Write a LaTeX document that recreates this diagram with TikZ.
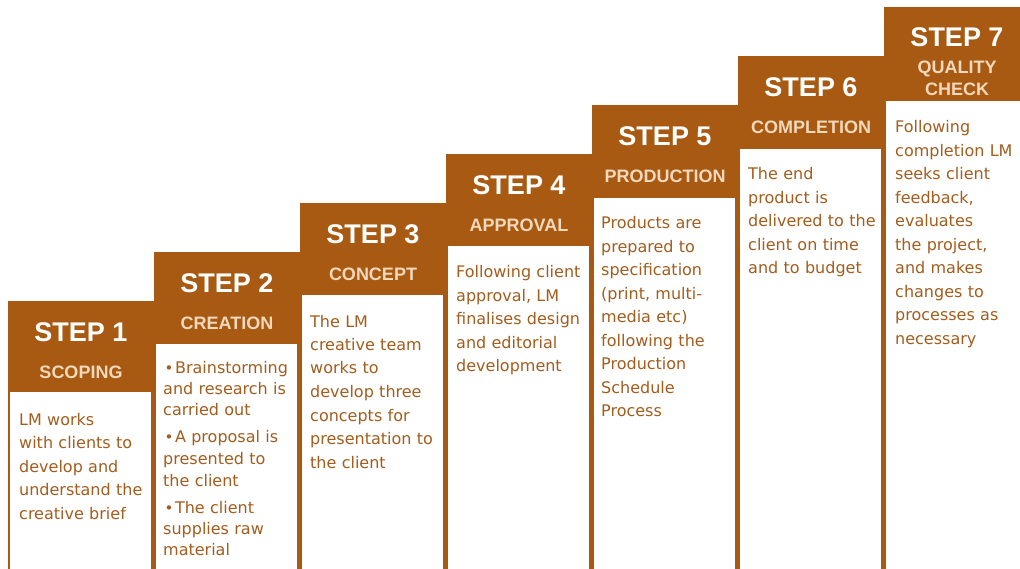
\documentclass[tikz,border=0pt]{standalone}
\usepackage{fontspec}
\setmainfont{DejaVu Sans}
\newfontfamily\headfont{Liberation Sans}
\usepackage{tikz}
\usetikzlibrary{positioning}
\definecolor{lmbrown}{RGB}{168,90,18}
\definecolor{lmtext}{RGB}{163,93,30}
\definecolor{lmpeach}{RGB}{243,216,188}
\newcommand{\stepbullet}{\hspace{1.5pt}{\fontsize{15}{15}\selectfont •}\hspace{1.5pt}}
\tikzset{stepnum/.style = {text=white, font=\headfont\fontsize{27}{27}\selectfont\bfseries, inner sep=0}}
\tikzset{stepname/.style = {text=lmpeach, font=\headfont\fontsize{18}{22}\selectfont\bfseries, align=center, inner sep=0}}
\tikzset{steptext/.style = {text=lmtext, font=\fontsize{16}{23.5}\selectfont, anchor=base west, text width=140pt, align=left, inner sep=0}}

\begin{document}
\begin{tikzpicture}[x=1pt, y=-1pt]
        \useasboundingbox (0,0) rectangle (1020,569);
        % staircase of columns
        \foreach \i in {0,...,6} {
            \fill [lmbrown] (8+146*\i, 301-49*\i) rectangle (154+146*\i, 575);
            \fill [white] (10+146*\i, 392-49*\i+0.5*\i) rectangle (151+146*\i, 575);
        }
        \node [stepnum] (step1) at (81,332) {STEP 1};
        \node [stepname] (title1) at (81,372) {SCOPING};
        \node [steptext] (body1) at (19,425) {LM works\\with clients to\\develop and\\understand the\\creative brief};
        \node [stepnum] (step2) at (227,283) {STEP 2};
        \node [stepname] (title2) at (227,323) {CREATION};
        \node [steptext, font=\fontsize{16}{21.5}\selectfont] (body2) at (163,373) {\stepbullet Brainstorming\\and research is\\carried out\\[5.5pt]\stepbullet A proposal is\\presented to\\the client\\[5.5pt]\stepbullet The client\\supplies raw\\material};
        \node [stepnum] (step3) at (373,234) {STEP 3};
        \node [stepname] (title3) at (373,274) {CONCEPT};
        \node [steptext] (body3) at (310,327) {The LM\\creative team\\works to\\develop three\\concepts for\\presentation to\\the client};
        \node [stepnum] (step4) at (519,185) {STEP 4};
        \node [stepname] (title4) at (519,225) {APPROVAL};
        \node [steptext] (body4) at (456,278) {Following client\\approval, LM\\finalises design\\and editorial\\development};
        \node [stepnum] (step5) at (665,136) {STEP 5};
        \node [stepname] (title5) at (665,176) {PRODUCTION};
        \node [steptext] (body5) at (601,229) {Products are\\prepared to\\specification\\(print, multi-\\media etc)\\following the\\Production\\Schedule\\Process};
        \node [stepnum] (step6) at (811,87) {STEP 6};
        \node [stepname] (title6) at (811,127) {COMPLETION};
        \node [steptext] (body6) at (748,180) {The end\\product is\\delivered to the\\client on time\\and to budget};
        \node [stepnum] (step7) at (957,37) {STEP 7};
        \node [stepname] (title7) at (957,78) {QUALITY\\CHECK};
        \node [steptext] (body7) at (895,133) {Following\\completion LM\\seeks client\\feedback,\\evaluates\\the project,\\and makes\\changes to\\processes as\\necessary};
    \end{tikzpicture}
\end{document}
